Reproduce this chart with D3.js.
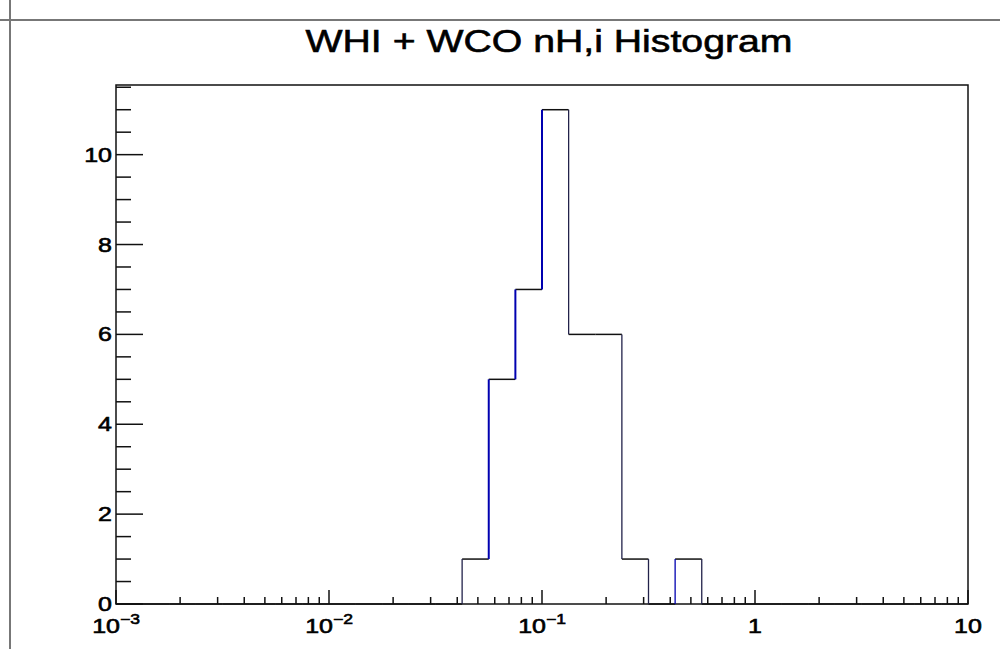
<!DOCTYPE html>
<html>
<head>
<meta charset="utf-8">
<script src="https://cdn.jsdelivr.net/npm/d3@7"></script>
<style>
  html, body { margin: 0; padding: 0; background: #fff; }
  svg { display: block; }
  text { font-family: "Liberation Sans", Arial, Helvetica, sans-serif; fill: #000; stroke: #000; stroke-width: 0.6; }
</style>
</head>
<body>
<script>
// ---- data ----
const title = "WHI + WCO nH,i Histogram";
const xMin = 1e-3, xMax = 10, nBins = 32;           // log-spaced bins, 8 per decade
const counts = [0,0,0,0,0,0,0,0, 0,0,0,0,0,1,5,7, 11,6,6,1,0,1,0,0, 0,0,0,0,0,0,0,0];
const xTickExps = [-3, -2, -1, 0, 1];
const xTickLabels = [["10","\u22123"],["10","\u22122"],["10","\u22121"],["1",""],["10",""]];
const yTicks = [0, 2, 4, 6, 8, 10];
const yTickLabels = ["0","2","4","6","8","10"];
const yMax = 11.55;

// ---- layout ----
const W = 1000, H = 649;
const frame = {left: 116, right: 968, top: 85, bottom: 604};
const stretch = 1.25;

const svg = d3.select("body").append("svg").attr("width", W).attr("height", H);

// pad lines
svg.append("line").attr("x1", 0).attr("x2", W).attr("y1", 20).attr("y2", 20)
  .attr("stroke", "#777").attr("stroke-width", 2);
svg.append("line").attr("x1", 10).attr("x2", 10).attr("y1", 0).attr("y2", H)
  .attr("stroke", "#777").attr("stroke-width", 2);

const x = d3.scaleLog().domain([xMin, xMax]).range([frame.left, frame.right]);
const y = d3.scaleLinear().domain([0, yMax]).range([frame.bottom, frame.top]);

// bin edges
const lmin = Math.log10(xMin), lmax = Math.log10(xMax);
const edges = d3.range(nBins + 1).map(i => Math.pow(10, lmin + (lmax - lmin) * i / nBins));

// frame
svg.append("rect").attr("x", frame.left).attr("y", frame.top)
  .attr("width", frame.right - frame.left).attr("height", frame.bottom - frame.top)
  .attr("fill", "none").attr("stroke", "#111").attr("stroke-width", 1.5);

// x axis ticks
const xMinorVals = [];
for (let e = -3; e < 1; e++) for (let m = 2; m <= 9; m++) xMinorVals.push(m * Math.pow(10, e));
const gx = svg.append("g");
gx.selectAll("line.minor").data(xMinorVals).join("line")
  .attr("x1", d => x(d)).attr("x2", d => x(d))
  .attr("y1", frame.bottom).attr("y2", frame.bottom - 7)
  .attr("stroke", "#111").attr("stroke-width", 1.5);
gx.selectAll("line.major").data(xTickExps).join("line")
  .attr("x1", d => x(Math.pow(10, d))).attr("x2", d => x(Math.pow(10, d)))
  .attr("y1", frame.bottom).attr("y2", frame.bottom - 14)
  .attr("stroke", "#111").attr("stroke-width", 1.5);
xTickExps.forEach((e, i) => {
  const t = svg.append("text")
    .attr("transform", `translate(${x(Math.pow(10, e))},633) scale(${stretch},1)`)
    .attr("text-anchor", "middle").attr("font-size", 20);
  t.append("tspan").text(xTickLabels[i][0]);
  if (xTickLabels[i][1]) t.append("tspan").attr("dy", -9).attr("font-size", 14).text(xTickLabels[i][1]);
});

// y axis ticks
const yMinorVals = d3.range(0.5, yMax, 0.5).filter(v => v % 2 !== 0);
const gy = svg.append("g");
gy.selectAll("line.minor").data(yMinorVals).join("line")
  .attr("x1", frame.left).attr("x2", frame.left + 15)
  .attr("y1", d => y(d)).attr("y2", d => y(d))
  .attr("stroke", "#111").attr("stroke-width", 1.5);
gy.selectAll("line.major").data(yTicks).join("line")
  .attr("x1", frame.left).attr("x2", frame.left + 27)
  .attr("y1", d => y(d)).attr("y2", d => y(d))
  .attr("stroke", "#111").attr("stroke-width", 1.5);
yTicks.forEach((v, i) => {
  svg.append("text")
    .attr("transform", `translate(112,${y(v) + 7}) scale(${stretch},1)`)
    .attr("text-anchor", "end").attr("font-size", 20).text(yTickLabels[i]);
});

// histogram: horizontal tops
const hg = svg.append("g");
hg.selectAll("line.h").data(counts.map((c, i) => ({c, i}))).join("line")
  .attr("x1", d => x(edges[d.i])).attr("x2", d => x(edges[d.i + 1]))
  .attr("y1", d => y(d.c)).attr("y2", d => y(d.c))
  .attr("stroke", "#111").attr("stroke-width", 1.5);
// verticals between bins
const verts = [];
for (let i = 0; i <= nBins; i++) {
  const a = i === 0 ? 0 : counts[i - 1];
  const b = i === nBins ? 0 : counts[i];
  if (a !== b) verts.push({i, a, b});
}
hg.selectAll("line.v").data(verts).join("line")
  .attr("x1", d => x(edges[d.i])).attr("x2", d => x(edges[d.i]))
  .attr("y1", d => y(d.a)).attr("y2", d => y(d.b))
  .attr("stroke", d => (d.b > d.a && d.a > 0) || (d.a === 0 && d.i > 16) ? "#0000b0" : "#22224a")
  .attr("stroke-width", d => d.b > d.a && d.a > 0 ? 2 : 1.3);

// title
svg.append("text").attr("x", 549).attr("y", 52)
  .attr("text-anchor", "middle").attr("font-size", 32)
  .attr("textLength", 487).attr("lengthAdjust", "spacingAndGlyphs")
  .text(title);
</script>
</body>
</html>
